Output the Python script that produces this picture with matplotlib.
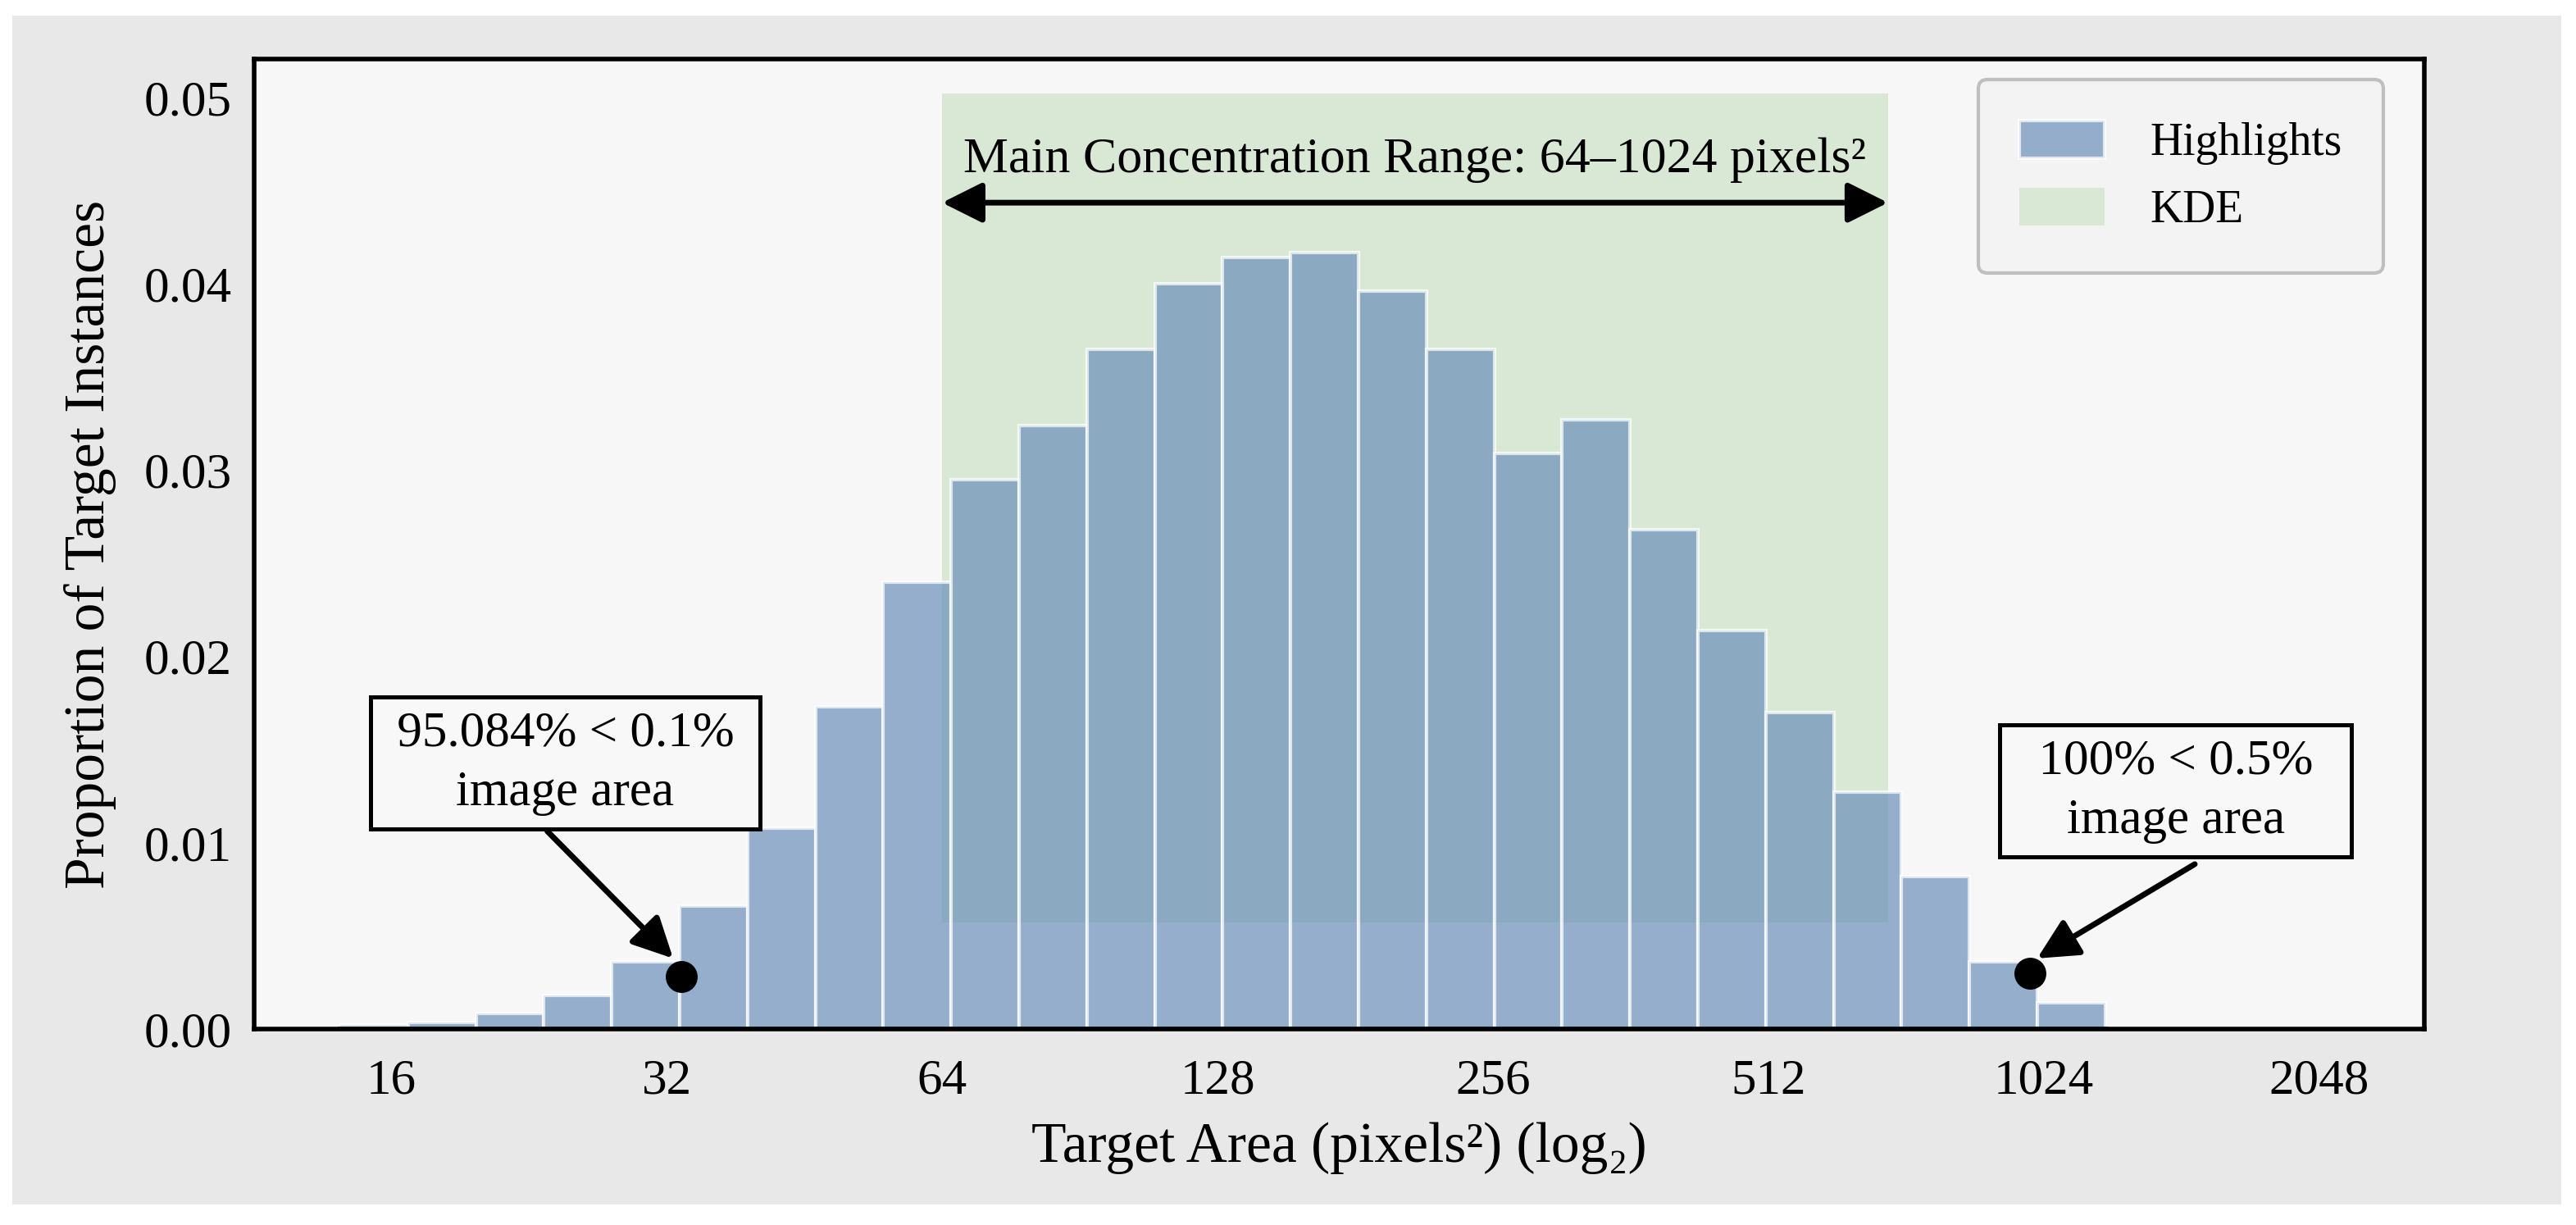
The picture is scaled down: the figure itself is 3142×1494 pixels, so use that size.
import numpy as np
import matplotlib
matplotlib.use('Agg')
from matplotlib import pyplot as plt
from matplotlib.patches import Rectangle

plt.rcParams['font.family'] = ['Liberation Serif', 'DejaVu Serif']

# histogram of target areas, log2 bins
bin_lo_log2 = 3.815
bin_hi_log2 = 10.223
proportions = [0.0002, 0.00035, 0.00084, 0.0018, 0.0036, 0.0066, 0.0108, 0.0173,
               0.0240, 0.0295, 0.0324, 0.0365, 0.0400, 0.0414, 0.0417, 0.0396,
               0.0365, 0.0309, 0.0327, 0.0268, 0.0214, 0.0170, 0.0127, 0.0082,
               0.0036, 0.0014]

# highlighted range (green band)
range_lo = 64
range_hi = 2 ** 9.434
range_text = 'Main Concentration Range: 64–1024 pixels²'

# marked points
dot_x = [33.2, 988]
dot_y = [0.0028, 0.0030]
dot_text = [' 95.084% < 0.1% \nimage area', '  100% < 0.5%  \nimage area']

xticks = [16, 32, 64, 128, 256, 512, 1024, 2048]
yticks = [0.00, 0.01, 0.02, 0.03, 0.04, 0.05]

edges = 2 ** np.linspace(bin_lo_log2, bin_hi_log2, len(proportions) + 1)

fig = plt.figure(figsize=(15.71, 7.47), dpi=200, facecolor='white')
fig.patches.append(Rectangle((0.0048, 0.0167), 0.9895, 0.9706, transform=fig.transFigure,
                             facecolor='#e8e8e8', edgecolor='none', zorder=-10))
ax = fig.add_axes([0.0987, 0.1600, 0.8424, 0.7918])
ax.set_facecolor('#f7f7f7')

ax.set_xscale('log', base=2)
ax.set_xlim(2 ** 3.503, 2 ** 11.381)
ax.set_ylim(0, 0.05207)

span = ax.axvspan(range_lo, range_hi, ymin=0.110, ymax=0.9645, color='#d9e8d5',
                  lw=0, zorder=0, label='KDE')
bars = ax.bar(edges[:-1], proportions, width=np.diff(edges), align='edge',
              color='#6b90b9', alpha=0.7, edgecolor='white', linewidth=1.5,
              zorder=1, label='Highlights')
ax.plot([edges[0], edges[-1]], [0, 0], color='#4d6889', lw=2.2, zorder=2)

ax.plot(dot_x, dot_y, 'o', color='black', ms=13, zorder=6)

# double arrow over the concentration range
ax.annotate('', xy=(range_lo, 0.04436), xytext=(range_hi, 0.04436),
            arrowprops=dict(arrowstyle='<|-|>,head_length=0.5,head_width=0.25',
                            mutation_scale=30, lw=2.5, color='black',
                            shrinkA=0, shrinkB=0), zorder=5)
ax.text(np.sqrt(range_lo * range_hi), 0.0460, range_text, ha='center', va='baseline',
        fontsize=22.3, zorder=5)

# callouts
box = dict(boxstyle='square,pad=0.27', fc='#f8f8f8', ec='black', lw=1.8)
arrow = dict(arrowstyle='-|>,head_length=0.5,head_width=0.25', mutation_scale=30,
             lw=2.5, color='black', shrinkA=0, shrinkB=0)
ax.annotate('', xy=(32.53, 0.00379), xytext=(23.7, 0.01062), arrowprops=arrow, zorder=5)
ax.annotate('', xy=(1007, 0.00379), xytext=(1497, 0.00885), arrowprops=arrow, zorder=5)
ax.text(24.8, 0.01427, dot_text[0], ha='center', va='center', fontsize=22,
        linespacing=1.4, bbox=box, zorder=7)
ax.text(1427, 0.01278, dot_text[1], ha='center', va='center', fontsize=22,
        linespacing=1.4, bbox=box, zorder=7)

ax.set_xticks(xticks)
ax.set_xticklabels([str(t) for t in xticks])
ax.xaxis.set_minor_locator(matplotlib.ticker.NullLocator())
ax.set_yticks(yticks)
ax.set_yticklabels(['%.2f' % t for t in yticks])
ax.tick_params(axis='both', length=0, labelsize=22)
ax.tick_params(axis='x', pad=13)
ax.tick_params(axis='y', pad=10)

for s in ax.spines.values():
    s.set_linewidth(2.0)
    s.set_color('black')

ax.set_xlabel('Target Area (pixels²) (log₂)', fontsize=25, labelpad=8)
ax.set_ylabel('Proportion of Target Instances', fontsize=25, labelpad=12)

leg = ax.legend(handles=[bars, span], loc='upper right', bbox_to_anchor=(0.981, 0.979),
                borderaxespad=0, fontsize=20, frameon=True, fancybox=True,
                facecolor='#f3f3f3', edgecolor='#bfbfbf', framealpha=1,
                borderpad=0.9, labelspacing=0.5, handlelength=1.87,
                handleheight=0.9, handletextpad=1.0)
leg.get_frame().set_linewidth(1.5)

fig.savefig('out.png', dpi=200)
